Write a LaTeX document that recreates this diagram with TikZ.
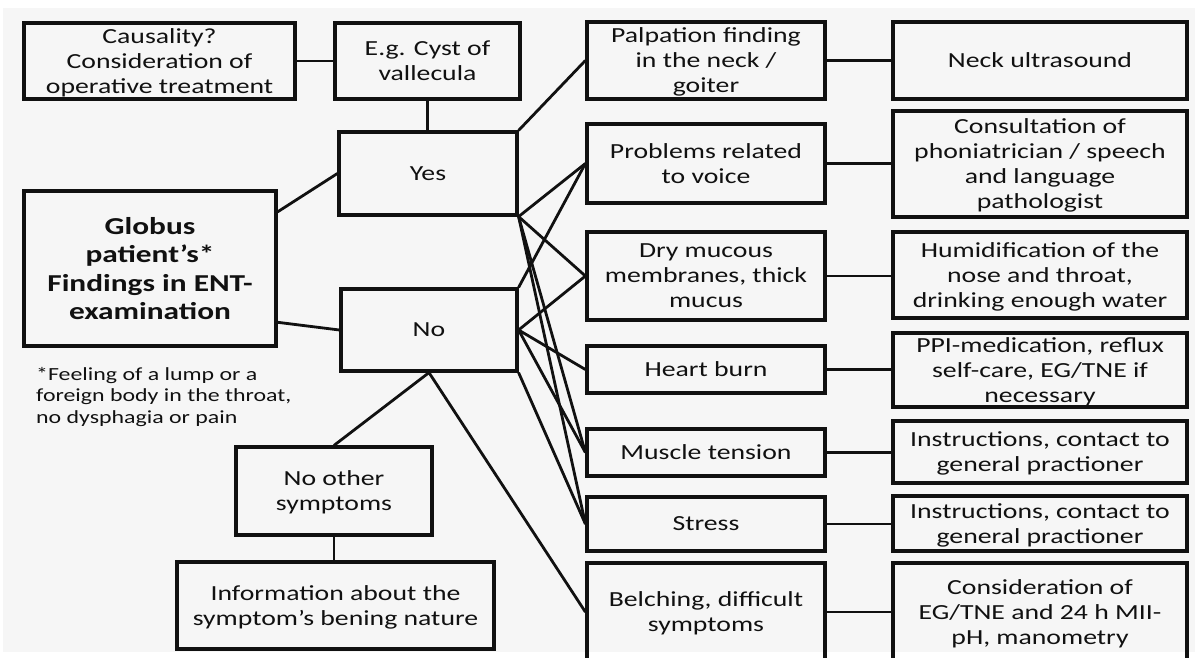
\documentclass[tikz,border=0pt]{standalone}
\usepackage{fontspec}
\setmainfont{Carlito}[FakeStretch=1.29]
\usetikzlibrary{calc}
\definecolor{bgc}{HTML}{F6F6F6}
\definecolor{ink}{HTML}{111111}
\tikzset{
  bx/.style={draw=ink, line width=3.2pt, align=center, inner sep=0pt, text depth=0pt,
    font=\fontsize{21.5}{25}\selectfont, text=ink},
  ln/.style={draw=ink, line width=2.8pt},
}
\begin{document}
\begin{tikzpicture}[x=1pt,y=-1pt]
\useasboundingbox (0,0) rectangle (1200,657);
\fill[bgc] (3,8) rectangle (1195,652);
% left part
\node[bx, minimum width=271, minimum height=76] (caus) at (159.5,61) {Causality?\\Consideration of\\operative treatment};
\node[bx, minimum width=185, minimum height=76] (cyst) at (427.5,61) {E.g. Cyst of\\vallecula};
\node[bx, minimum width=178, minimum height=83] (yes) at (428,173.5) {Yes};
\node[bx, minimum width=252, minimum height=155, font=\fontsize{24.3}{28.5}\selectfont\bfseries] (glob) at (150,268.5) {Globus\\patient’s*\\Findings in ENT-\\examination};
\node[bx, minimum width=176, minimum height=82] (no) at (429,330) {No};
\node[bx, minimum width=196, minimum height=88] (noth) at (334,491) {No other\\symptoms};
\node[bx, minimum width=317, minimum height=87] (info) at (335.5,605.5) {Information about the\\symptom’s bening nature};
\node[anchor=west, align=left, inner sep=0pt, text=ink, font=\fontsize{18.5}{21.5}\selectfont] (foot) at (36,397) {*Feeling of a lump or a\\foreign body in the throat,\\no dysphagia or pain};
% middle column
\node[bx, minimum width=238, minimum height=77] (palp) at (706,60.5) {Palpation finding\\in the neck /\\goiter};
\node[bx, minimum width=238, minimum height=79] (prob) at (706,163.5) {Problems related\\to voice};
\node[bx, minimum width=238, minimum height=88] (dry) at (706,276) {Dry mucous\\membranes, thick\\mucus};
\node[bx, minimum width=238, minimum height=47] (heart) at (706,369.5) {Heart burn};
\node[bx, minimum width=238, minimum height=47] (musc) at (706,452.5) {Muscle tension};
\node[bx, minimum width=238, minimum height=54] (stress) at (706,524) {Stress};
\node[bx, minimum width=238, minimum height=98] (belch) at (706,612) {Belching, difficult\\symptoms};
% right column
\node[bx, minimum width=294, minimum height=77] (neck) at (1040,60.5) {Neck ultrasound};
\node[bx, minimum width=294, minimum height=106] (cons) at (1040,164) {Consultation of\\phoniatrician / speech\\and language\\pathologist};
\node[bx, minimum width=294, minimum height=86] (humid) at (1040,275) {Humidification of the\\nose and throat,\\drinking enough water};
\node[bx, minimum width=294, minimum height=74] (ppi) at (1040,370) {PPI-medication, reflux\\self-care, EG/TNE if\\necessary};
\node[bx, minimum width=294, minimum height=62] (ins1) at (1040,452) {Instructions, contact to\\general practioner};
\node[bx, minimum width=294, minimum height=55] (ins2) at (1040,523.5) {Instructions, contact to\\general practioner};
\node[bx, minimum width=294, minimum height=98] (consid) at (1040,612) {Consideration of\\EG/TNE and 24 h MII-\\pH, manometry};
% connectors
\draw[ln] (caus.east) -- (cyst.west);
\draw[ln] (cyst.south) -- (cyst.south |- yes.north);
\draw[ln] ($(glob.north east)!0.142!(glob.south east)$) -- (yes.west);
\draw[ln] ($(glob.north east)!0.84!(glob.south east)$) -- (no.west);
\draw[ln] (yes.north east) -- (palp.west);
\draw[ln] (yes.south east) -- (prob.west);
\draw[ln] (yes.south east) -- (dry.west);
\draw[ln] (yes.south east) -- (musc.west);
\draw[ln] (yes.south east) -- (stress.west);
\draw[ln] (no.north east) -- (prob.west);
\draw[ln] (no.east) -- (dry.west);
\draw[ln] (no.east) -- (heart.west);
\draw[ln] (no.east) -- (musc.west);
\draw[ln] (no.south east) -- (stress.west);
\draw[ln] (no.south) -- (noth.north);
\draw[ln] (no.south) -- (belch.west);
\draw[ln] (noth.south) -- (noth.south |- info.north);
\draw[ln] (palp.east) -- (palp.east -| neck.west);
\draw[ln] (prob.east) -- (prob.east -| cons.west);
\draw[ln] (dry.east) -- (dry.east -| humid.west);
\draw[ln] (heart.east) -- (heart.east -| ppi.west);
\draw[ln] (musc.east) -- (musc.east -| ins1.west);
\draw[ln] (stress.east) -- (stress.east -| ins2.west);
\draw[ln] (belch.east) -- (belch.east -| consid.west);
\end{tikzpicture}
\end{document}
